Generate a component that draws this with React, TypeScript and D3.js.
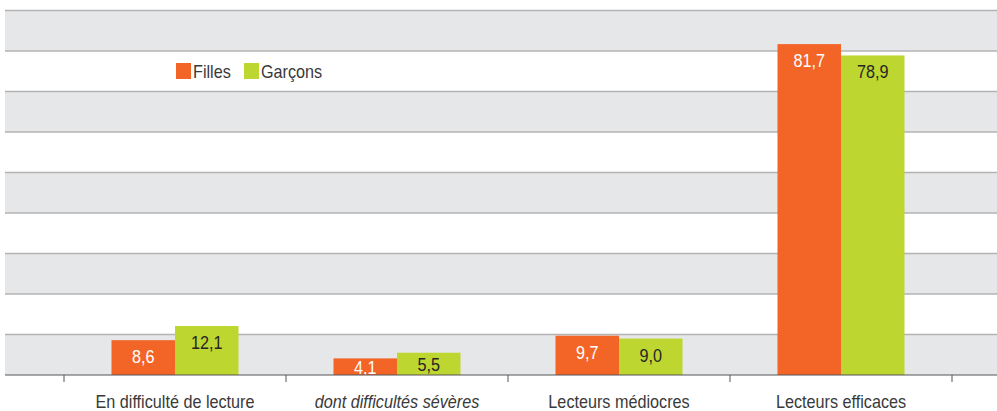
import React, { useEffect, useRef } from 'react';
import * as d3 from 'd3';

const categories = ['En difficulté de lecture', 'dont difficultés sévères', 'Lecteurs médiocres', 'Lecteurs efficaces'];
const italicCategories = ['dont difficultés sévères'];
const series = ['Filles', 'Garçons'];
const filles = [8.6, 4.1, 9.7, 81.7];
const garcons = [12.1, 5.5, 9.0, 78.9];
const yTicks = [0, 10, 20, 30, 40, 50, 60, 70, 80, 90];

const colors: Record<string, string> = { Filles: '#f26527', Garçons: '#bed630' };
const labelColors: Record<string, string> = { Filles: '#ffffff', Garçons: '#262626' };
const FONT = '"Liberation Sans", Arial, sans-serif';
const SX = 0.9; // narrow the glyphs to mimic a condensed face

const width = 997;
const height = 411;

const App = () => {
    const svgRef = useRef<SVGSVGElement>(null);

    useEffect(() => {
        const svg = d3.select(svgRef.current);
        svg.selectAll('*').remove();

        const left = 5;
        const right = width;
        const y = d3.scaleLinear().domain([0, 90]).range([375, 10.5]);
        const x0 = d3.scaleBand().domain(categories).range([64, 952]).padding(0);
        const x1 = d3.scaleBand().domain(series).range([0, x0.bandwidth()]).paddingInner(0).paddingOuter(0.748);

        svg.append('defs')
            .append('clipPath')
            .attr('id', 'plot-clip')
            .append('rect')
            .attr('x', -100)
            .attr('y', 0)
            .attr('width', 400)
            .attr('height', y(0));

        // alternating bands
        const bands = yTicks.slice(0, -1).filter((t) => (t / 10) % 2 === 0);
        svg.append('g')
            .selectAll('rect')
            .data(bands)
            .enter()
            .append('rect')
            .attr('x', left)
            .attr('width', right - left)
            .attr('y', (d) => y(d + 10))
            .attr('height', (d) => y(d) - y(d + 10))
            .attr('fill', '#e6e7e9');

        // gridlines
        svg.append('g')
            .selectAll('line')
            .data(yTicks.slice(1))
            .enter()
            .append('line')
            .attr('x1', left)
            .attr('x2', right)
            .attr('y1', (d) => y(d))
            .attr('y2', (d) => y(d))
            .attr('stroke', '#b3b3b3')
            .attr('stroke-width', 1.5);

        const rows = categories.map((c, i) => ({ category: c, values: [filles[i], garcons[i]] }));

        const groups = svg
            .append('g')
            .selectAll('g')
            .data(rows)
            .enter()
            .append('g')
            .attr('transform', (d) => `translate(${x0(d.category)},0)`);

        groups
            .selectAll('rect')
            .data((d) => d.values.map((v, j) => ({ key: series[j], value: v })))
            .enter()
            .append('rect')
            .attr('x', (d) => x1(d.key)!)
            .attr('width', x1.bandwidth())
            .attr('y', (d) => y(d.value))
            .attr('height', (d) => y(0) - y(d.value))
            .attr('fill', (d) => colors[d.key]);

        // value labels: near the top of the bar, centred when the bar is short
        const labelY = (v: number) => Math.min(y(v) + 23, (y(v) + y(0)) / 2 + 7);
        groups
            .append('g')
            .attr('clip-path', 'url(#plot-clip)')
            .selectAll('text')
            .data((d) => d.values.map((v, j) => ({ key: series[j], value: v })))
            .enter()
            .append('text')
            .attr('transform', (d) => `translate(${x1(d.key)! + x1.bandwidth() / 2},${labelY(d.value)}) scale(${SX},1)`)
            .attr('text-anchor', 'middle')
            .style('font-family', FONT)
            .style('font-size', '18px')
            .style('fill', (d) => labelColors[d.key])
            .text((d) => d.value.toFixed(1).replace('.', ','));

        // baseline
        svg.append('line')
            .attr('x1', left)
            .attr('x2', right)
            .attr('y1', y(0))
            .attr('y2', y(0))
            .attr('stroke', '#555')
            .attr('stroke-width', 1);

        // ticks
        const tickXs = categories.map((c) => x0(c)!).concat([x0.range()[1]]);
        svg.append('g')
            .selectAll('line')
            .data(tickXs)
            .enter()
            .append('line')
            .attr('x1', (d) => d)
            .attr('x2', (d) => d)
            .attr('y1', y(0))
            .attr('y2', y(0) + 7)
            .attr('stroke', '#555')
            .attr('stroke-width', 1);

        // category labels
        svg.append('g')
            .selectAll('text')
            .data(categories)
            .enter()
            .append('text')
            .attr('transform', (d) => `translate(${x0(d)! + x0.bandwidth() / 2},408) scale(${SX},1)`)
            .attr('text-anchor', 'middle')
            .style('font-family', FONT)
            .style('font-size', '18px')
            .style('font-style', (d) => (italicCategories.includes(d) ? 'italic' : 'normal'))
            .style('fill', '#3a3a3a')
            .text((d) => d);

        // legend
        const legendPos = [176, 244];
        const legend = svg
            .append('g')
            .selectAll('g')
            .data(series)
            .enter()
            .append('g')
            .attr('transform', (d, i) => `translate(${legendPos[i]},63)`);
        legend.append('rect').attr('width', 15).attr('height', 16).attr('fill', (d) => colors[d]);
        legend
            .append('text')
            .attr('transform', `translate(17,15) scale(${SX},1)`)
            .style('font-family', FONT)
            .style('font-size', '18px')
            .style('fill', '#3a3a3a')
            .text((d) => d);
    }, []);

    return (
        <svg
            ref={svgRef}
            width={width}
            height={height}
            style={{ position: 'absolute', left: 0, top: 0, display: 'block', background: '#fff' }}
        />
    );
};

export default App;
